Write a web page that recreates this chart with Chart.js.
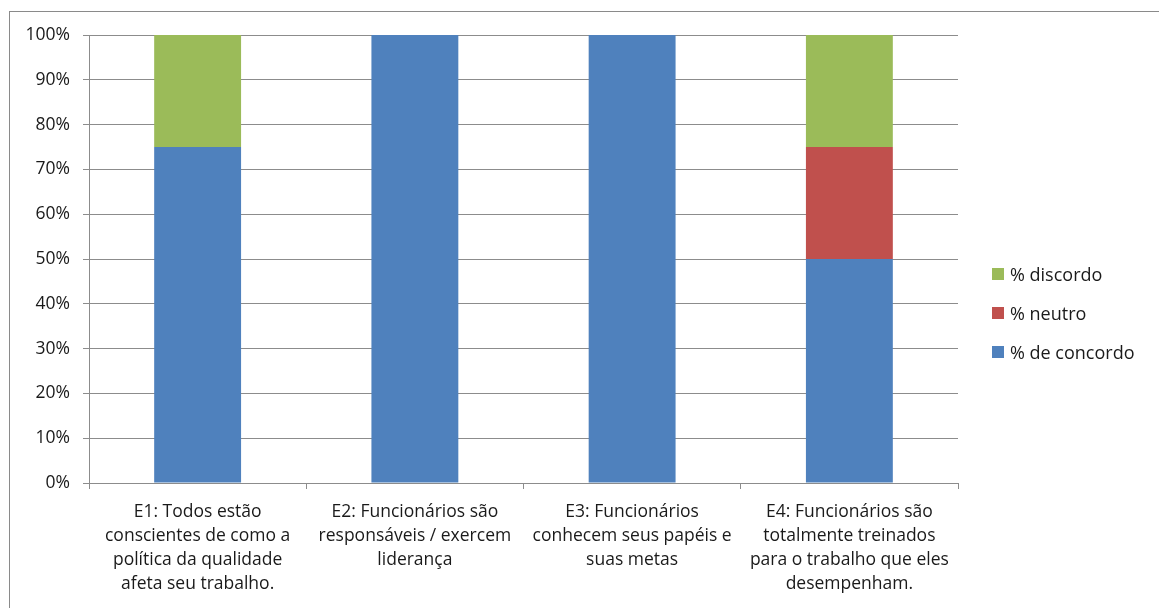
<!DOCTYPE html>
<html>
<head>
<meta charset="utf-8">
<script src="https://cdn.jsdelivr.net/npm/chart.js@4"></script>
<style>
  html, body { margin: 0; padding: 0; background: #fff; overflow: hidden; }
  #wrap { position: relative; width: 1159px; height: 608px; }
  #frame { position: absolute; left: 9px; top: 11px; width: 1200px; height: 700px; border: 1px solid #8a8a8a; box-sizing: border-box; }
  #chart { position: absolute; left: 0; top: 0; }
  #legend { position: absolute; left: 992px; top: 254px; font-family: "Open Sans", "Liberation Sans", sans-serif; font-size: 18px; color: #1a1a1a; }
  .item { display: flex; align-items: center; height: 39px; }
  .box { width: 12px; height: 12px; margin-right: 6px; }
</style>
</head>
<body>
<div id="wrap">
  <div id="frame"></div>
  <canvas id="chart" width="1159" height="608"></canvas>
  <div id="legend"></div>
</div>
<script>
const categories = [
    ["E1: Todos estão", "conscientes de como a", "política da qualidade", "afeta seu trabalho."],
    ["E2: Funcionários são", "responsáveis / exercem", "liderança"],
    ["E3: Funcionários", "conhecem seus papéis e", "suas metas"],
    ["E4: Funcionários são", "totalmente treinados", "para o trabalho que eles", "desempenham."],
];
const concordo = [75, 100, 100, 50];
const neutro = [0, 0, 0, 25];
const discordo = [25, 0, 0, 25];
const seriesNames = ["% de concordo", "% neutro", "% discordo"];
const seriesColors = ["#4F81BD", "#C0504D", "#9BBB59"];

const FONT = "'Open Sans', 'Liberation Sans', sans-serif";
const GRID = "#8c8c8c";

const datasets = [concordo, neutro, discordo].map((data, i) => ({
    label: seriesNames[i],
    data: data,
    backgroundColor: seriesColors[i],
    borderWidth: 0,
    barPercentage: 0.4,
    categoryPercentage: 1.0,
}));

new Chart(document.getElementById("chart").getContext("2d"), {
    type: "bar",
    data: { labels: categories, datasets: datasets },
    options: {
        responsive: false,
        animation: false,
        layout: { padding: { top: 35, right: 201, left: 0, bottom: 0 } },
        plugins: {
            legend: { display: false },
            tooltip: { enabled: false },
        },
        scales: {
            x: {
                stacked: true,
                afterFit: (s) => { s.height = 125; },
                grid: { offset: true, drawOnChartArea: false, color: GRID, tickLength: 6 },
                border: { color: GRID },
                ticks: {
                    autoSkip: false,
                    maxRotation: 0,
                    padding: 11,
                    color: "#1a1a1a",
                    font: { family: FONT, size: 17.5, lineHeight: 1.37 },
                },
            },
            y: {
                stacked: true,
                min: 0,
                max: 100,
                afterFit: (s) => { s.width = 89; },
                grid: { color: GRID, tickLength: 6 },
                border: { color: GRID },
                ticks: {
                    stepSize: 10,
                    padding: 13,
                    color: "#1a1a1a",
                    font: { family: FONT, size: 17.5 },
                    callback: (v) => v + "%",
                },
            },
        },
    },
});

// legend listed top-down in reverse series order
const legend = document.getElementById("legend");
for (let i = seriesNames.length - 1; i >= 0; i--) {
    const row = document.createElement("div");
    row.className = "item";
    const box = document.createElement("span");
    box.className = "box";
    box.style.background = seriesColors[i];
    const txt = document.createElement("span");
    txt.textContent = seriesNames[i];
    row.appendChild(box);
    row.appendChild(txt);
    legend.appendChild(row);
}
</script>
</body>
</html>
